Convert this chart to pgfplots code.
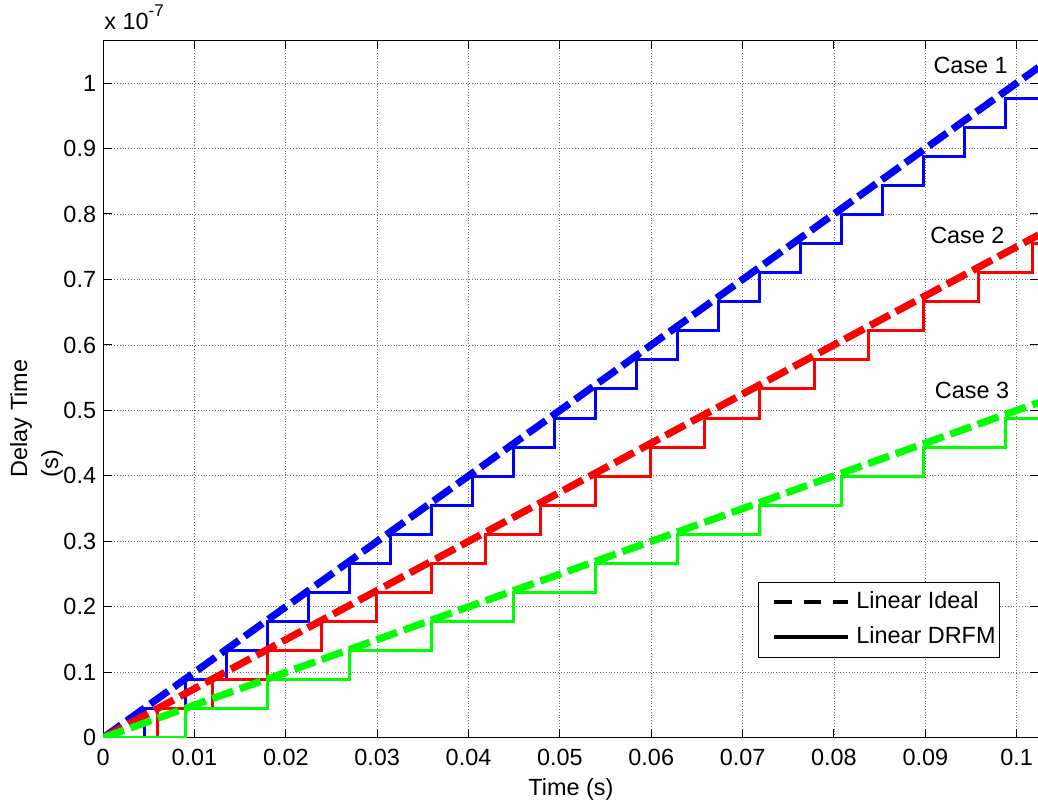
\documentclass[border=0pt]{standalone}
\usepackage{pgfplots}
\pgfplotsset{compat=1.18}
\usepackage{fontspec}
\setmainfont{Liberation Sans}
\newcommand\fs{\fontsize{11.7bp}{14bp}\selectfont}
\definecolor{mblue}{rgb}{0,0,1}
\definecolor{mred}{rgb}{1,0,0}
\definecolor{mgreen}{rgb}{0,1,0}

\begin{document}
\begin{tikzpicture}
\begin{axis}[
  scale only axis,
  width=467.25bp, height=348.5bp,
  xmin=0, xmax=0.1024,
  ymin=0, ymax=1.0657,
  clip mode=individual,
  xtick={0,0.01,0.02,0.03,0.04,0.05,0.06,0.07,0.08,0.09,0.1},
  xticklabels={0,0.01,0.02,0.03,0.04,0.05,0.06,0.07,0.08,0.09,0.1},
  ytick={0,0.1,0.2,0.3,0.4,0.5,0.6,0.7,0.8,0.9,1},
  yticklabels={0,0.1,0.2,0.3,0.4,0.5,0.6,0.7,0.8,0.9,1},
  /pgf/number format/assume math mode=true,
  tick label style={font=\fs},
  xticklabel style={yshift=-2bp},
  tick align=inside,
  major tick length=4.5bp,
  tick style={black, line width=0.5bp},
  axis line style={line width=0.5bp},
  grid=major,
  grid style={densely dotted, black!55, line width=0.4bp},
  xlabel={Time (s)},
  xlabel style={font=\fs, at={(axis description cs:0.5,-0.0832)}, anchor=base},
  legend style={
    at={(rel axis cs:0.9588,0.1148)}, anchor=south east,
    draw=black, line width=0.5bp, font=\fs,
    inner xsep=2bp, inner ysep=4.5bp,
    nodes={inner sep=0pt, text height=8.5bp, text depth=2.5bp},
    row sep=6.5bp,
    /tikz/every odd column/.style={column sep=3.5bp},
  },
  legend cell align=left,
  legend image code/.code={\path (0bp,0bp); \draw[#1] (5bp,0bp) -- (41.5bp,0bp);},
]
\coordinate (sw) at (rel axis cs:0,0);
\coordinate (ne) at (rel axis cs:1,1);

% legend samples
\addlegendimage{black, line width=1.7bp, dash pattern=on 8.5bp off 6bp}
\addlegendentry{Linear Ideal}
\addlegendimage{black, line width=1.7bp}
\addlegendentry{Linear DRFM}

% quantized DRFM delay, case 1
\addplot[const plot, mblue, line width=1.5bp, forget plot] coordinates {
(0,0) (0.00449,0.0444) (0.00898,0.0888) (0.01347,0.1332) (0.01796,0.1776)
(0.02245,0.2220) (0.02694,0.2664) (0.03143,0.3108) (0.03592,0.3552)
(0.04041,0.3996) (0.04490,0.4440) (0.04939,0.4884) (0.05388,0.5328)
(0.05837,0.5772) (0.06286,0.6216) (0.06735,0.6660) (0.07184,0.7104)
(0.07633,0.7548) (0.08082,0.7992) (0.08531,0.8436) (0.08980,0.8880)
(0.09429,0.9324) (0.09878,0.9768) (0.1024,0.9768)};
% case 2
\addplot[const plot, mred, line width=1.5bp, forget plot] coordinates {
(0,0) (0.00599,0.0444) (0.01197,0.0888) (0.01796,0.1332) (0.02395,0.1776)
(0.02994,0.2220) (0.03592,0.2664) (0.04191,0.3108) (0.04790,0.3552)
(0.05388,0.3996) (0.05987,0.4440) (0.06586,0.4884) (0.07184,0.5328)
(0.07783,0.5772) (0.08382,0.6216) (0.08981,0.6660) (0.09579,0.7104)
(0.10178,0.7548) (0.1024,0.7548)};
% case 3
\addplot[const plot, mgreen, line width=1.5bp, forget plot] coordinates {
(0,0) (0.00898,0.0444) (0.01796,0.0888) (0.02694,0.1332) (0.03592,0.1776)
(0.04490,0.2220) (0.05388,0.2664) (0.06286,0.3108) (0.07184,0.3552)
(0.08082,0.3996) (0.08980,0.4440) (0.09878,0.4884) (0.1024,0.4884)};

% ideal linear delay
\addplot[mblue, line width=3.6bp, dash pattern=on 11bp off 3.5bp, forget plot]
  coordinates {(0,0) (0.1024,1.024)};
\addplot[mred, line width=3.6bp, dash pattern=on 11bp off 3.5bp, forget plot]
  coordinates {(0,0) (0.1024,0.768)};
\addplot[mgreen, line width=3.6bp, dash pattern=on 11bp off 3.5bp, forget plot]
  coordinates {(0,0) (0.1024,0.512)};

\node[font=\fs, anchor=base west, inner sep=0pt] at (axis cs:0.09086,1.0153) {Case 1};
\node[font=\fs, anchor=base west, inner sep=0pt] at (axis cs:0.0905,0.7554) {Case 2};
\node[font=\fs, anchor=base west, inner sep=0pt] at (axis cs:0.0910,0.518) {Case 3};

% y axis label and exponent
\node[font=\fs, rotate=90, anchor=base, inner sep=0pt] at (axis description cs:-0.0813,0.4577) {Delay Time};
\node[font=\fs, rotate=90, anchor=base, inner sep=0pt] at (axis description cs:-0.0482,0.3931) {(s)};
\node[font=\fs, anchor=base west, inner sep=0pt] at ([yshift=5.5bp]axis description cs:0.001,1) {x 10\raisebox{1.05ex}{\fontsize{8.5bp}{10bp}\selectfont -7}};
\end{axis}
\pgfresetboundingbox
\path ([shift={(-51.5bp,-34bp)}]sw) rectangle ([shift={(-0.3bp,20bp)}]ne);
\end{tikzpicture}
\end{document}
